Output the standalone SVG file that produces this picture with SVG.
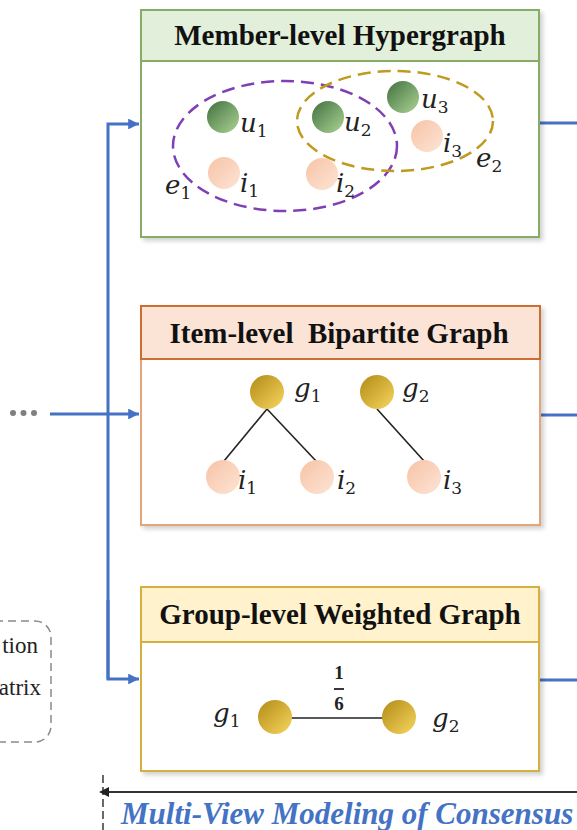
<svg xmlns="http://www.w3.org/2000/svg" width="577" height="830" viewBox="0 0 577 830">
  <style>
    .title { font-family: "Liberation Serif", "Times New Roman", serif; font-weight: bold; font-size: 29px; fill: #111; text-anchor: middle; white-space: pre; }
    .m { font-family: "DejaVu Serif", "Liberation Serif", serif; font-style: italic; font-size: 26px; fill: #222; }
    .s { font-style: normal; font-size: 17px; }
    .side { font-family: "Liberation Serif", "Times New Roman", serif; font-size: 23px; fill: #222; text-anchor: end; }
    .frac { font-family: "Liberation Serif", "Times New Roman", serif; font-weight: bold; font-size: 19px; fill: #222; text-anchor: middle; }
    .caption { font-family: "Liberation Serif", "Times New Roman", serif; font-weight: bold; font-style: italic; font-size: 31px; fill: #4472c4; }
    .flow { fill: none; stroke: #4472c4; stroke-width: 3; }
    .edge { stroke: #222; stroke-width: 1.6; }
    .box { fill: #fff; }
  </style>
  <defs>
    <linearGradient id="gUser" x1="0" y1="0" x2="1" y2="1">
      <stop offset="0" stop-color="#41703f"/>
      <stop offset="1" stop-color="#acd494"/>
    </linearGradient>
    <linearGradient id="gItem" x1="0" y1="0" x2="1" y2="1">
      <stop offset="0" stop-color="#f7c3a6"/>
      <stop offset="1" stop-color="#fde4d5"/>
    </linearGradient>
    <linearGradient id="gGroup" x1="0" y1="0" x2="1" y2="1">
      <stop offset="0" stop-color="#b18a16"/>
      <stop offset="1" stop-color="#f7d65e"/>
    </linearGradient>
    <filter id="shadow" x="-5%" y="-5%" width="112%" height="115%">
      <feDropShadow dx="3" dy="3" stdDeviation="2" flood-color="#000" flood-opacity="0.18"/>
    </filter>
    <marker id="arrowBlue" viewBox="0 0 10 10" refX="10" refY="5" markerWidth="3.6" markerHeight="3.6" orient="auto" markerUnits="strokeWidth">
      <path d="M0,0 L10,5 L0,10 z" fill="#4472c4"/>
    </marker>
    <marker id="arrowDark" viewBox="0 0 10 10" refX="1" refY="5" markerWidth="5" markerHeight="5" orient="auto-start-reverse" markerUnits="strokeWidth">
      <path d="M0,0 L10,5 L0,10 z" fill="#222"/>
    </marker>
  </defs>

  <rect width="577" height="830" fill="#fff"/>

  <!-- partially visible box on the left -->
  <g id="side-box">
    <rect x="-60" y="621" width="111" height="121" rx="16" fill="none" stroke="#8a8a8a" stroke-width="1.5" stroke-dasharray="8 5"/>
    <text class="side" x="38" y="653">tion</text>
    <text class="side" x="41" y="695">atrix</text>
  </g>

  <!-- ellipsis feeding the views -->
  <g id="ellipsis" fill="#7f7f7f">
    <circle cx="13" cy="413" r="3"/>
    <circle cx="23.5" cy="413" r="3"/>
    <circle cx="34" cy="413" r="3"/>
  </g>

  <!-- connectors -->
  <g id="connectors">
    <line class="flow" x1="50" y1="414" x2="139" y2="414" marker-end="url(#arrowBlue)"/>
    <polyline class="flow" points="108,679 108,124 139,124" marker-end="url(#arrowBlue)"/>
    <polyline class="flow" points="108,600 108,679 139,679" marker-end="url(#arrowBlue)"/>
    <line class="flow" x1="540" y1="123" x2="577" y2="123"/>
    <line class="flow" x1="541" y1="415" x2="577" y2="415"/>
    <line class="flow" x1="540" y1="680" x2="577" y2="680"/>
    <line x1="103" y1="775" x2="103" y2="830" stroke="#444" stroke-width="1.6" stroke-dasharray="8 4"/>
    <line x1="577" y1="792" x2="108" y2="792" stroke="#333" stroke-width="2" marker-end="url(#arrowDark)"/>
  </g>

  <!-- member-level hypergraph view -->
  <g id="member-view">
    <g filter="url(#shadow)">
      <rect class="box" x="141" y="10" width="398" height="227" stroke="#86ad68" stroke-width="2"/>
    </g>
    <rect x="141" y="10" width="398" height="51" fill="#e2efda" stroke="#86ad68" stroke-width="2"/>
    <text class="title" x="340" y="45">Member-level Hypergraph</text>
    <circle cx="223" cy="117" r="16" fill="url(#gUser)"/>
    <circle cx="328" cy="117" r="16" fill="url(#gUser)"/>
    <circle cx="403" cy="97" r="16" fill="url(#gUser)"/>
    <circle cx="224" cy="173" r="16" fill="url(#gItem)"/>
    <circle cx="322" cy="174" r="16" fill="url(#gItem)"/>
    <circle cx="427" cy="136" r="16" fill="url(#gItem)"/>
    <ellipse cx="285" cy="146" rx="112" ry="65" fill="none" stroke="#7f3fb5" stroke-width="2.5" stroke-dasharray="13 7"/>
    <ellipse cx="395" cy="121" rx="98" ry="50" fill="none" stroke="#c09a1e" stroke-width="2.5" stroke-dasharray="13 7"/>
    <text class="m" x="240" y="132">u<tspan class="s" dy="5">1</tspan></text>
    <text class="m" x="344" y="131">u<tspan class="s" dy="5">2</tspan></text>
    <text class="m" x="421" y="108">u<tspan class="s" dy="5">3</tspan></text>
    <text class="m" x="240" y="192">i<tspan class="s" dy="5">1</tspan></text>
    <text class="m" x="336" y="192">i<tspan class="s" dy="5">2</tspan></text>
    <text class="m" x="443" y="152">i<tspan class="s" dy="5">3</tspan></text>
    <text class="m" x="165" y="194">e<tspan class="s" dy="5">1</tspan></text>
    <text class="m" x="476" y="167">e<tspan class="s" dy="5">2</tspan></text>
  </g>

  <!-- item-level bipartite graph view -->
  <g id="item-view">
    <g filter="url(#shadow)">
      <rect class="box" x="141" y="306" width="399" height="219" stroke="#e5a57a" stroke-width="2"/>
    </g>
    <rect x="141" y="306" width="399" height="53" fill="#fbe4d6" stroke="#cd6d32" stroke-width="2"/>
    <text class="title" x="339" y="343">Item-level  Bipartite Graph</text>
    <line class="edge" x1="267" y1="409" x2="224" y2="461"/>
    <line class="edge" x1="267" y1="409" x2="317" y2="462"/>
    <line class="edge" x1="377" y1="409" x2="424" y2="461"/>
    <circle cx="267" cy="392" r="17" fill="url(#gGroup)"/>
    <circle cx="377" cy="392" r="17" fill="url(#gGroup)"/>
    <circle cx="223" cy="477" r="17" fill="url(#gItem)"/>
    <circle cx="317" cy="477" r="17" fill="url(#gItem)"/>
    <circle cx="424" cy="477" r="17" fill="url(#gItem)"/>
    <text class="m" x="294" y="397">g<tspan class="s" dy="5">1</tspan></text>
    <text class="m" x="402" y="397">g<tspan class="s" dy="5">2</tspan></text>
    <text class="m" x="238" y="489">i<tspan class="s" dy="5">1</tspan></text>
    <text class="m" x="337" y="489">i<tspan class="s" dy="5">2</tspan></text>
    <text class="m" x="443" y="489">i<tspan class="s" dy="5">3</tspan></text>
  </g>

  <!-- group-level weighted graph view -->
  <g id="group-view">
    <g filter="url(#shadow)">
      <rect class="box" x="141" y="587" width="398" height="184" stroke="#d4b040" stroke-width="2"/>
    </g>
    <rect x="141" y="587" width="398" height="55" fill="#fff2cc" stroke="#d4b040" stroke-width="2"/>
    <text class="title" x="340" y="624">Group-level Weighted Graph</text>
    <line class="edge" x1="290" y1="718" x2="384" y2="718"/>
    <circle cx="275" cy="717" r="17" fill="url(#gGroup)"/>
    <circle cx="399" cy="717" r="17" fill="url(#gGroup)"/>
    <text class="frac" x="339" y="679">1</text>
    <line x1="334" y1="689" x2="344" y2="689" stroke="#222" stroke-width="1.8"/>
    <text class="frac" x="339" y="710">6</text>
    <text class="m" x="213" y="722">g<tspan class="s" dy="5">1</tspan></text>
    <text class="m" x="432" y="727">g<tspan class="s" dy="5">2</tspan></text>
  </g>

  <text id="caption" class="caption" x="121" y="824">Multi-View Modeling of Consensus</text>
</svg>
